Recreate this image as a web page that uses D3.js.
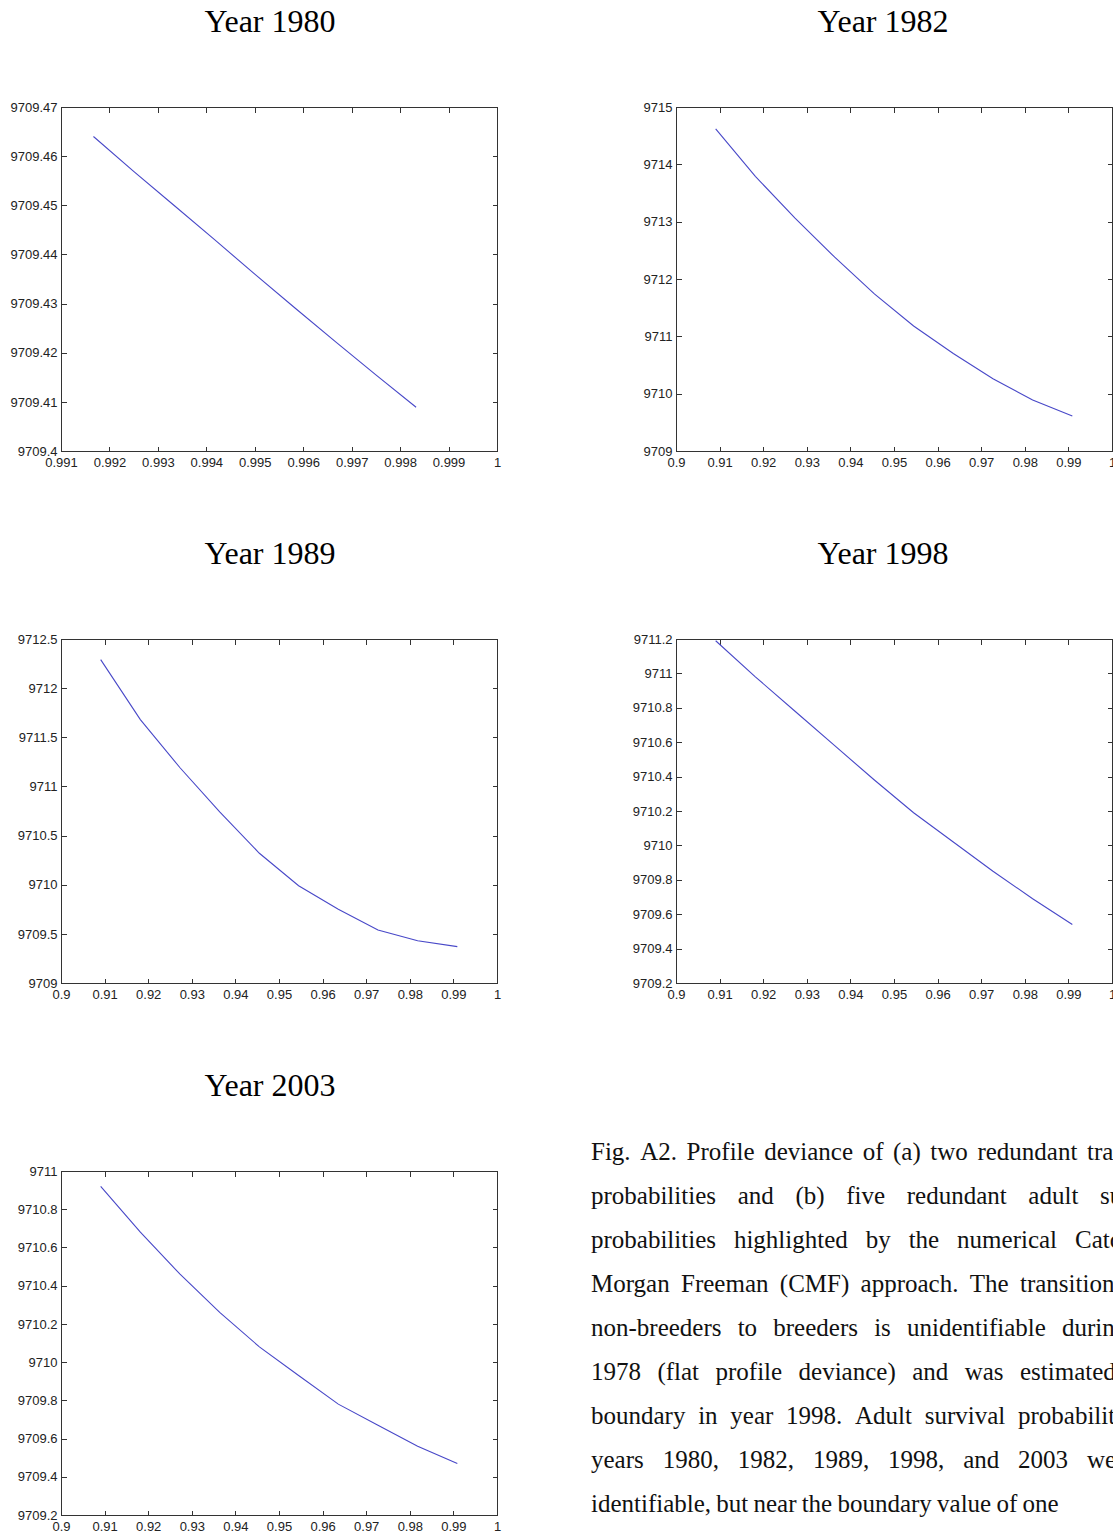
<!DOCTYPE html>
<html lang="en">
<head>
    <meta charset="UTF-8">
    <title>Profile deviance</title>
    <style>
        body { margin: 0; background: #fff; }
        svg { display: block; overflow: hidden; }
    </style>
</head>
<body>
    <div id="graph"></div>
    <script src="https://d3js.org/d3.v7.min.js"></script>
    <script>
        // Tick values
        const X_TICKS_1980 = [0.991, 0.992, 0.993, 0.994, 0.995, 0.996, 0.997, 0.998, 0.999, 1];
        const X_TICKS = [0.9, 0.91, 0.92, 0.93, 0.94, 0.95, 0.96, 0.97, 0.98, 0.99, 1];
        const Y_TICKS_1980 = [9709.4, 9709.41, 9709.42, 9709.43, 9709.44, 9709.45, 9709.46, 9709.47];
        const Y_TICKS_1982 = [9709, 9710, 9711, 9712, 9713, 9714, 9715];
        const Y_TICKS_1989 = [9709, 9709.5, 9710, 9710.5, 9711, 9711.5, 9712, 9712.5];
        const Y_TICKS_1998 = [9709.2, 9709.4, 9709.6, 9709.8, 9710, 9710.2, 9710.4, 9710.6, 9710.8, 9711, 9711.2];
        const Y_TICKS_2003 = [9709.2, 9709.4, 9709.6, 9709.8, 9710, 9710.2, 9710.4, 9710.6, 9710.8, 9711];

        // Survival probability grid and profile deviance
        const SURV_1980 = [0.99167, 0.99250, 0.99333, 0.99417, 0.99500, 0.99583, 0.99667, 0.99750, 0.99833];
        const DEV_1980 = [9709.4640, 9709.4569, 9709.4500, 9709.4430, 9709.4360, 9709.4291, 9709.4222, 9709.4155, 9709.4089];

        const SURV_GRID = [0.9091, 0.9182, 0.9273, 0.9364, 0.9455, 0.9545, 0.9636, 0.9727, 0.9818, 0.9909];
        const DEV_1982 = [9714.62, 9713.79, 9713.06, 9712.38, 9711.74, 9711.18, 9710.70, 9710.26, 9709.89, 9709.61];
        const DEV_1989 = [9712.29, 9711.68, 9711.19, 9710.74, 9710.32, 9709.99, 9709.75, 9709.54, 9709.43, 9709.37];
        const DEV_1998 = [9711.19, 9710.98, 9710.78, 9710.58, 9710.38, 9710.19, 9710.02, 9709.85, 9709.69, 9709.54];
        const DEV_2003 = [9710.92, 9710.68, 9710.46, 9710.26, 9710.08, 9709.93, 9709.78, 9709.67, 9709.56, 9709.47];

        const CAPTION_LINES = [
            "Fig. A2. Profile deviance of (a) two redundant transition",
            "probabilities and (b) five redundant adult survival",
            "probabilities highlighted by the numerical Catchpole-",
            "Morgan Freeman (CMF) approach. The transition",
            "non-breeders to breeders is unidentifiable during",
            "1978 (flat profile deviance) and was estimated",
            "boundary in year 1998. Adult survival probabilities",
            "years 1980, 1982, 1989, 1998, and 2003 were",
            "identifiable, but near the boundary value of one"
        ];

        // Layout
        const WIDTH = 1113;
        const HEIGHT = 1534;
        const PW = 436;
        const PH = 344;
        const TICK = 5;
        const LINE_COLOR = "#4848c8";
        const AXIS_COLOR = "#333";

        const PANELS = [
            { title: "Year 1980", xs: SURV_1980, ys: DEV_1980, xTicks: X_TICKS_1980, yTicks: Y_TICKS_1980, left: 61, top: 107, titleX: 270 },
            { title: "Year 1982", xs: SURV_GRID, ys: DEV_1982, xTicks: X_TICKS, yTicks: Y_TICKS_1982, left: 676, top: 107, titleX: 883 },
            { title: "Year 1989", xs: SURV_GRID, ys: DEV_1989, xTicks: X_TICKS, yTicks: Y_TICKS_1989, left: 61, top: 639, titleX: 270 },
            { title: "Year 1998", xs: SURV_GRID, ys: DEV_1998, xTicks: X_TICKS, yTicks: Y_TICKS_1998, left: 676, top: 639, titleX: 883 },
            { title: "Year 2003", xs: SURV_GRID, ys: DEV_2003, xTicks: X_TICKS, yTicks: Y_TICKS_2003, left: 61, top: 1171, titleX: 270 }
        ];

        const CAPTION_X = 591;
        const CAPTION_Y0 = 1160;
        const CAPTION_STEP = 44;
        // where the last word of each justified line begins
        const CAPTION_LAST_WORD_X = [1087, 1100, 1075, 1020, 1062, 1020, 1018, 1087, null];

        const svg = d3.select("#graph")
            .append("svg")
            .attr("width", WIDTH)
            .attr("height", HEIGHT);

        const fmt = d => String(d);

        function styleAxis(g) {
            g.select(".domain").remove();
            g.selectAll("line").attr("stroke", AXIS_COLOR).attr("shape-rendering", "crispEdges");
            g.selectAll("text")
                .attr("fill", "#222")
                .attr("font-family", "'Liberation Sans', Arial, sans-serif")
                .attr("font-size", 13);
        }

        PANELS.forEach(p => {
            const x = d3.scaleLinear()
                .domain(d3.extent(p.xTicks))
                .range([0, PW]);
            const y = d3.scaleLinear()
                .domain(d3.extent(p.yTicks))
                .range([PH, 0]);

            svg.append("text")
                .attr("x", p.titleX)
                .attr("y", p.top - 75)
                .attr("text-anchor", "middle")
                .attr("font-family", "'Liberation Serif', 'Times New Roman', serif")
                .attr("font-size", 32)
                .attr("fill", "#000")
                .text(p.title);

            const g = svg.append("g")
                .attr("transform", `translate(${p.left}, ${p.top})`);

            g.append("rect")
                .attr("x", 0.5)
                .attr("y", 0.5)
                .attr("width", PW)
                .attr("height", PH)
                .attr("fill", "#fff")
                .attr("stroke", AXIS_COLOR)
                .attr("shape-rendering", "crispEdges");

            g.append("g")
                .attr("transform", `translate(0, ${PH + 0.5})`)
                .call(d3.axisBottom(x).tickValues(p.xTicks).tickFormat(fmt)
                    .tickSizeInner(-TICK).tickSizeOuter(0).tickPadding(6))
                .call(styleAxis);

            g.append("g")
                .attr("transform", "translate(0, 0.5)")
                .call(d3.axisTop(x).tickValues(p.xTicks).tickFormat("")
                    .tickSizeInner(-TICK).tickSizeOuter(0))
                .call(styleAxis);

            g.append("g")
                .attr("transform", "translate(0.5, 0)")
                .call(d3.axisLeft(y).tickValues(p.yTicks).tickFormat(fmt)
                    .tickSizeInner(-TICK).tickSizeOuter(0).tickPadding(4))
                .call(styleAxis);

            g.append("g")
                .attr("transform", `translate(${PW + 0.5}, 0)`)
                .call(d3.axisRight(y).tickValues(p.yTicks).tickFormat("")
                    .tickSizeInner(-TICK).tickSizeOuter(0))
                .call(styleAxis);

            const line = d3.line()
                .x((d, i) => x(p.xs[i]))
                .y(d => y(d));

            g.append("path")
                .datum(p.ys)
                .attr("d", line)
                .attr("fill", "none")
                .attr("stroke", LINE_COLOR)
                .attr("stroke-width", 1.1);
        });

        // Caption, justified line by line
        CAPTION_LINES.forEach((txt, i) => {
            const words = txt.split(" ");
            const t = svg.append("text")
                .attr("y", CAPTION_Y0 + i * CAPTION_STEP)
                .attr("font-family", "'Liberation Serif', 'Times New Roman', serif")
                .attr("font-size", 25)
                .attr("fill", "#111");
            const spans = words.map(w => t.append("tspan").text(w));
            const widths = spans.map(s => s.node().getComputedTextLength());
            const lastX = CAPTION_LAST_WORD_X[i];
            let gap = 6.25;
            if (lastX !== null && words.length > 1) {
                const used = d3.sum(widths.slice(0, -1));
                gap = (lastX - CAPTION_X - used) / (words.length - 1);
            } else {
                gap = 5.2;
            }
            let cx = CAPTION_X;
            spans.forEach((s, k) => {
                s.attr("x", cx);
                cx += widths[k] + gap;
            });
        });
    </script>
</body>
</html>
